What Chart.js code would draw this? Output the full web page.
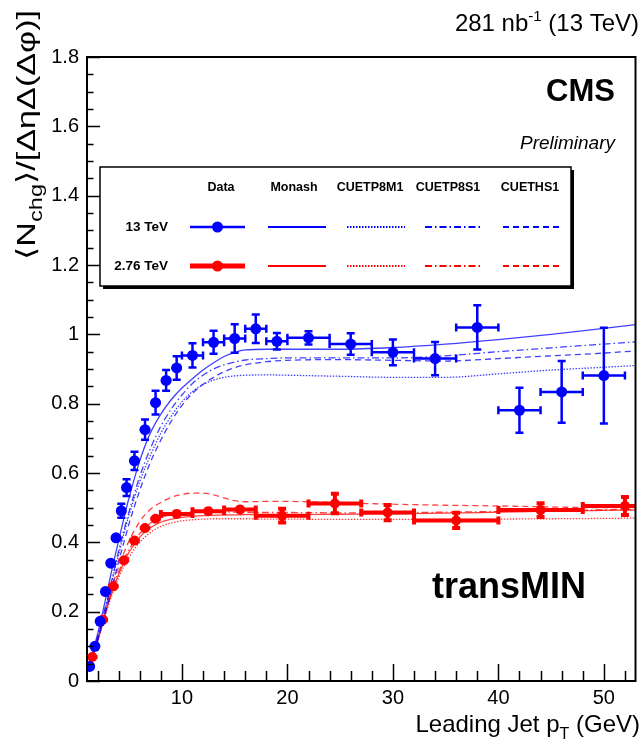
<!DOCTYPE html>
<html>
<head>
<meta charset="utf-8">
<script src="https://cdn.jsdelivr.net/npm/chart.js@4.4.1/dist/chart.umd.min.js"></script>
<style>
  html, body { margin: 0; padding: 0; background: #fff; }
  canvas { display: block; }
</style>
</head>
<body>
<canvas id="ue" width="641" height="747"></canvas>
<script>
// --- 13 TeV data (bin centre, half width, value, stat error) ---
const x13 = [1.25, 1.75, 2.25, 2.75, 3.25, 3.75, 4.25, 4.75, 5.5, 6.5, 7.5, 8.5, 9.5,
  11, 13, 15, 17, 19, 22, 26, 30, 34, 38, 42, 46, 50];
const xErr13 = [0.25, 0.25, 0.25, 0.25, 0.25, 0.25, 0.25, 0.25, 0.5, 0.5, 0.5, 0.5, 0.5,
  1, 1, 1, 1, 1, 2, 2, 2, 2, 2, 2, 2, 2];
const y13 = [0.042, 0.100, 0.172, 0.258, 0.340, 0.413, 0.491, 0.558, 0.635, 0.725, 0.803, 0.867, 0.903,
  0.939, 0.977, 0.988, 1.016, 0.980, 0.990, 0.972, 0.948, 0.930, 1.020, 0.781, 0.834, 0.881];
const yErr13 = [0.006, 0.008, 0.010, 0.012, 0.015, 0.018, 0.020, 0.024, 0.026, 0.029, 0.034, 0.030, 0.034,
  0.035, 0.033, 0.041, 0.041, 0.024, 0.019, 0.031, 0.037, 0.048, 0.064, 0.065, 0.089, 0.138];

// --- 2.76 TeV data ---
const x276 = [1.5, 2.5, 3.5, 4.5, 5.5, 6.5, 7.5, 9.5, 12.5, 15.5, 19.5, 24.5, 29.5, 36, 44, 52];
const xErr276 = [0.5, 0.5, 0.5, 0.5, 0.5, 0.5, 0.5, 1.5, 1.5, 1.5, 2.5, 2.5, 2.5, 4, 4, 4];
const y276 = [0.069, 0.177, 0.273, 0.348, 0.405, 0.441, 0.468, 0.482, 0.490, 0.495, 0.477, 0.512,
  0.486, 0.463, 0.493, 0.505];
const yErr276 = [0.005, 0.006, 0.007, 0.008, 0.008, 0.009, 0.010, 0.010, 0.012, 0.016, 0.020, 0.028,
  0.022, 0.022, 0.020, 0.026];

// --- MC predictions, common pT grid ---
const mcPt = [1, 1.5, 2, 2.5, 3, 3.5, 4, 4.5, 5, 6, 7, 8, 9, 10, 11, 12, 13, 14, 15, 16, 18, 20,
  25, 30, 35, 40, 45, 50, 53];

const monash13 = [0.035, 0.08, 0.135, 0.2, 0.27, 0.34, 0.405, 0.47, 0.53, 0.635, 0.715, 0.77, 0.812,
  0.845, 0.872, 0.897, 0.918, 0.936, 0.948, 0.955, 0.957, 0.957, 0.957, 0.962, 0.972, 0.985, 1.0, 1.017, 1.028];
const cuetp8m1_13 = [0.035, 0.072, 0.12, 0.178, 0.24, 0.305, 0.365, 0.425, 0.48, 0.575, 0.65, 0.715, 0.765,
  0.805, 0.835, 0.855, 0.868, 0.876, 0.88, 0.882, 0.883, 0.882, 0.879, 0.876, 0.876, 0.886, 0.897, 0.905, 0.91];
const cuetp8s1_13 = [0.035, 0.075, 0.125, 0.185, 0.245, 0.31, 0.375, 0.435, 0.49, 0.59, 0.67, 0.735, 0.785,
  0.825, 0.858, 0.882, 0.9, 0.912, 0.92, 0.926, 0.93, 0.932, 0.932, 0.932, 0.938, 0.95, 0.961, 0.972, 0.978];
const cueths1_13 = [0.03, 0.07, 0.115, 0.17, 0.225, 0.285, 0.345, 0.4, 0.455, 0.55, 0.63, 0.695, 0.75,
  0.795, 0.83, 0.856, 0.876, 0.892, 0.904, 0.912, 0.921, 0.925, 0.927, 0.925, 0.923, 0.93, 0.938, 0.946, 0.952];

const monash276 = [0.03, 0.068, 0.115, 0.17, 0.222, 0.268, 0.308, 0.342, 0.372, 0.415, 0.442, 0.458, 0.467,
  0.472, 0.475, 0.477, 0.478, 0.479, 0.479, 0.48, 0.48, 0.48, 0.481, 0.482, 0.484, 0.487, 0.49, 0.492, 0.493];
const cuetp8m1_276 = [0.03, 0.066, 0.112, 0.165, 0.215, 0.26, 0.298, 0.33, 0.358, 0.4, 0.428, 0.446, 0.456,
  0.462, 0.465, 0.467, 0.468, 0.468, 0.468, 0.468, 0.467, 0.467, 0.466, 0.466, 0.466, 0.467, 0.468, 0.469, 0.47];
const cuetp8s1_276 = [0.032, 0.07, 0.118, 0.173, 0.226, 0.273, 0.315, 0.35, 0.38, 0.425, 0.455, 0.472, 0.48,
  0.485, 0.488, 0.489, 0.489, 0.488, 0.487, 0.486, 0.486, 0.486, 0.485, 0.486, 0.487, 0.489, 0.491, 0.494, 0.495];
const cueths1_276 = [0.035, 0.075, 0.125, 0.18, 0.235, 0.285, 0.33, 0.37, 0.405, 0.46, 0.495, 0.515, 0.53,
  0.538, 0.542, 0.542, 0.537, 0.528, 0.52, 0.517, 0.518, 0.518, 0.514, 0.51, 0.507, 0.505, 0.502, 0.5, 0.5];

// axis labels
const xTicks = [10, 20, 30, 40, 50];
const yTicks = [0, 0.2, 0.4, 0.6, 0.8, 1.0, 1.2, 1.4, 1.6, 1.8];

const tunes = ['Monash', 'CUETP8M1', 'CUETP8S1', 'CUETHS1'];
const energies = ['13 TeV', '2.76 TeV'];

const BLUE = '#0000ff';
const RED = '#ff0000';
const FONT = '"Liberation Sans", Arial, "DejaVu Sans", sans-serif';

const dashes = {
  Monash: [],
  CUETP8M1: [1.5, 1.5],
  CUETP8S1: [7, 3, 1.5, 3],
  CUETHS1: [6, 4]
};

const mcCurves = {
  '13 TeV': [monash13, cuetp8m1_13, cuetp8s1_13, cueths1_13],
  '2.76 TeV': [monash276, cuetp8m1_276, cuetp8s1_276, cueths1_276]
};

const series = {
  '13 TeV': { color: BLUE, lw: 2.5, cap: 4, radius: 5.5, x: x13, xe: xErr13, y: y13, ye: yErr13 },
  '2.76 TeV': { color: RED, lw: 4, cap: 4, radius: 5, x: x276, xe: xErr276, y: y276, ye: yErr276 }
};

const toPoints = (xs, ys) => xs.map((x, i) => ({ x, y: ys[i] }));

const datasets = [];
energies.forEach(e => {
  const s = series[e];
  datasets.push({
    label: e + ' Data',
    energy: e,
    data: toPoints(s.x, s.y),
    showLine: false,
    pointRadius: s.radius,
    pointBackgroundColor: s.color,
    pointBorderWidth: 0,
    order: 0
  });
});
energies.forEach(e => {
  const color = series[e].color;
  tunes.forEach((t, k) => {
    datasets.push({
      label: e + ' ' + t,
      data: toPoints(mcPt, mcCurves[e][k]),
      showLine: true,
      borderColor: color === BLUE ? 'rgba(0,0,255,0.75)' : 'rgba(255,0,0,0.75)',
      borderWidth: 1.3,
      borderDash: dashes[t],
      cubicInterpolationMode: 'monotone',
      pointRadius: 0,
      order: 2
    });
  });
});

// error bars drawn just before each marker set; caps only where the bar leaves the marker
const errorBars = {
  id: 'errorBars',
  beforeDatasetDraw(chart, args) {
    const ds = chart.data.datasets[args.index];
    if (!ds.energy) return;
    const s = series[ds.energy];
    const { ctx, chartArea: a, scales: { x, y } } = chart;
    ctx.save();
    ctx.beginPath();
    ctx.rect(a.left, a.top, a.width, a.height);
    ctx.clip();
    ctx.strokeStyle = s.color;
    ctx.lineWidth = s.lw;
    ctx.beginPath();
    s.x.forEach((xv, i) => {
      const px = x.getPixelForValue(xv);
      const py = y.getPixelForValue(s.y[i]);
      const xl = x.getPixelForValue(xv - s.xe[i]);
      const xr = x.getPixelForValue(xv + s.xe[i]);
      const yl = y.getPixelForValue(s.y[i] - s.ye[i]);
      const yh = y.getPixelForValue(s.y[i] + s.ye[i]);
      ctx.moveTo(xl, py); ctx.lineTo(xr, py);
      if (xr - px > s.radius + 1) {
        ctx.moveTo(xl, py - s.cap); ctx.lineTo(xl, py + s.cap);
        ctx.moveTo(xr, py - s.cap); ctx.lineTo(xr, py + s.cap);
      }
      if (yl - py > s.radius + 1) {
        ctx.moveTo(px, yl); ctx.lineTo(px, yh);
        ctx.moveTo(px - s.cap, yl); ctx.lineTo(px + s.cap, yl);
        ctx.moveTo(px - s.cap, yh); ctx.lineTo(px + s.cap, yh);
      }
    });
    ctx.stroke();
    ctx.restore();
  }
};

// frame and inward tick marks
const frame = {
  id: 'frame',
  afterDatasetsDraw(chart) {
    const { ctx, chartArea: a, scales: { x, y } } = chart;
    ctx.save();
    ctx.strokeStyle = '#000';
    ctx.lineWidth = 1.5;
    ctx.beginPath();
    for (let v = 0; v <= 1.8001; v += 0.05) {
      const py = Math.round(y.getPixelForValue(v)) + 0.5;
      const major = Math.abs(v / 0.2 - Math.round(v / 0.2)) < 1e-6;
      ctx.moveTo(a.left, py);
      ctx.lineTo(a.left + (major ? 13 : 6.5), py);
    }
    for (let v = 2; v <= 52; v += 2) {
      const px = Math.round(x.getPixelForValue(v)) + 0.5;
      ctx.moveTo(px, a.bottom);
      ctx.lineTo(px, a.bottom - (v % 10 === 0 ? 17 : 10));
    }
    ctx.stroke();
    ctx.lineWidth = 2;
    ctx.strokeRect(a.left, a.top, a.right - a.left, a.bottom - a.top);
    ctx.restore();
  }
};

// text made of pieces, some raised or lowered
function drawPieces(ctx, pieces, x0, y0) {
  let cx = x0;
  pieces.forEach(p => {
    ctx.font = p.font;
    ctx.fillText(p.text, cx, y0 + (p.dy || 0));
    cx += ctx.measureText(p.text).width;
  });
  return cx - x0;
}
function piecesWidth(ctx, pieces) {
  let w = 0;
  pieces.forEach(p => { ctx.font = p.font; w += ctx.measureText(p.text).width; });
  return w;
}

const labels = {
  id: 'labels',
  afterDraw(chart) {
    const { ctx } = chart;
    ctx.save();
    ctx.fillStyle = '#000';
    ctx.textBaseline = 'alphabetic';
    ctx.textAlign = 'left';

    // luminosity label
    const lumi = [
      { text: '281 nb', font: `24px ${FONT}` },
      { text: '-1', font: `15px ${FONT}`, dy: -10 },
      { text: ' (13 TeV)', font: `24px ${FONT}` }
    ];
    drawPieces(ctx, lumi, 639 - piecesWidth(ctx, lumi), 31);

    ctx.textAlign = 'right';
    ctx.font = `bold 31px ${FONT}`;
    ctx.fillText('CMS', 615, 101);
    ctx.font = `italic 19px ${FONT}`;
    ctx.fillText('Preliminary', 615, 149);

    ctx.textAlign = 'left';
    ctx.font = `bold 36px ${FONT}`;
    ctx.fillText('transMIN', 432, 598);

    // x title
    const xt = [
      { text: 'Leading Jet p', font: `24px ${FONT}` },
      { text: 'T', font: `16px ${FONT}`, dy: 7 },
      { text: ' (GeV)', font: `24px ${FONT}` }
    ];
    drawPieces(ctx, xt, 640 - piecesWidth(ctx, xt), 732);

    // y title, rotated, reading upwards
    const yt = [
      { text: '\u27E8', font: `26px ${FONT}` },
      { text: 'N', font: `26px ${FONT}` },
      { text: 'chg', font: `18px ${FONT}`, dy: 7 },
      { text: '\u27E9/[\u0394\u03B7\u0394(\u0394\u03C6)]', font: `26px ${FONT}` }
    ];
    const w = piecesWidth(ctx, yt);
    ctx.save();
    ctx.translate(35, 260);
    ctx.rotate(-Math.PI / 2);
    ctx.scale(250 / w, 1);
    drawPieces(ctx, yt, 0, 0);
    ctx.restore();

    ctx.restore();
  }
};

// two-row legend: energies x (data + tunes)
const legendGrid = {
  id: 'legendGrid',
  afterDraw(chart) {
    const { ctx } = chart;
    const box = { l: 100, t: 167, r: 571, b: 286 };
    const cols = [
      { name: 'Data', x0: 190, x1: 245, hx: 221 },
      { name: 'Monash', x0: 268, x1: 326, hx: 294 },
      { name: 'CUETP8M1', x0: 347, x1: 405, hx: 370 },
      { name: 'CUETP8S1', x0: 425, x1: 482, hx: 448 },
      { name: 'CUETHS1', x0: 503, x1: 560, hx: 530 }
    ];
    const rowY = [227, 266];
    ctx.save();
    ctx.fillStyle = '#fff';
    ctx.fillRect(box.l, box.t, box.r - box.l, box.b - box.t);
    ctx.fillStyle = '#000';
    ctx.fillRect(box.l + 3, box.b, box.r - box.l, 3);
    ctx.fillRect(box.r, box.t + 3, 3, box.b - box.t);
    ctx.strokeStyle = '#000';
    ctx.lineWidth = 1.5;
    ctx.strokeRect(box.l, box.t, box.r - box.l, box.b - box.t);

    ctx.font = `bold 12.5px ${FONT}`;
    ctx.textAlign = 'center';
    ctx.textBaseline = 'middle';
    cols.forEach(c => ctx.fillText(c.name, c.hx, 188));

    energies.forEach((e, r) => {
      const y = rowY[r];
      const s = series[e];
      ctx.fillStyle = '#000';
      ctx.textAlign = 'right';
      ctx.font = `bold 13.5px ${FONT}`;
      ctx.fillText(e, 168, y);

      // data sample
      const d = cols[0];
      ctx.strokeStyle = s.color;
      ctx.lineWidth = r === 0 ? 2.5 : 5;
      ctx.setLineDash([]);
      ctx.beginPath();
      ctx.moveTo(d.x0, y); ctx.lineTo(d.x1, y);
      ctx.stroke();
      ctx.fillStyle = s.color;
      ctx.beginPath();
      ctx.arc((d.x0 + d.x1) / 2, y, 5.5, 0, Math.PI * 2);
      ctx.fill();

      // MC samples
      tunes.forEach((t, k) => {
        const c = cols[k + 1];
        ctx.strokeStyle = s.color;
        ctx.lineWidth = 2;
        ctx.setLineDash(dashes[t]);
        ctx.beginPath();
        ctx.moveTo(c.x0, y); ctx.lineTo(c.x1, y);
        ctx.stroke();
      });
      ctx.setLineDash([]);
    });
    ctx.restore();
  }
};

Chart.defaults.font.family = FONT;
Chart.defaults.color = '#000';

new Chart(document.getElementById('ue').getContext('2d'), {
  type: 'scatter',
  data: { datasets },
  options: {
    responsive: false,
    animation: false,
    devicePixelRatio: 1,
    layout: { padding: { top: 57, right: 3, left: 0, bottom: 0 } },
    plugins: {
      legend: { display: false },
      tooltip: { enabled: false }
    },
    scales: {
      x: {
        type: 'linear',
        min: 1,
        max: 53,
        grid: { display: false, drawTicks: false },
        border: { display: false },
        afterBuildTicks: s => { s.ticks = xTicks.map(v => ({ value: v })); },
        afterFit: s => { s.height = 66; },
        ticks: {
          padding: 5,
          maxRotation: 0,
          font: { size: 20 },
          callback: v => String(v)
        }
      },
      y: {
        type: 'linear',
        min: 0,
        max: 1.8,
        grid: { display: false, drawTicks: false },
        border: { display: false },
        afterBuildTicks: s => { s.ticks = yTicks.map(v => ({ value: v })); },
        afterFit: s => { s.width = 87; },
        ticks: {
          padding: 8,
          font: { size: 20 },
          callback: v => String(Number(v.toFixed(1)))
        }
      }
    }
  },
  plugins: [errorBars, frame, labels, legendGrid]
});
</script>
</body>
</html>
